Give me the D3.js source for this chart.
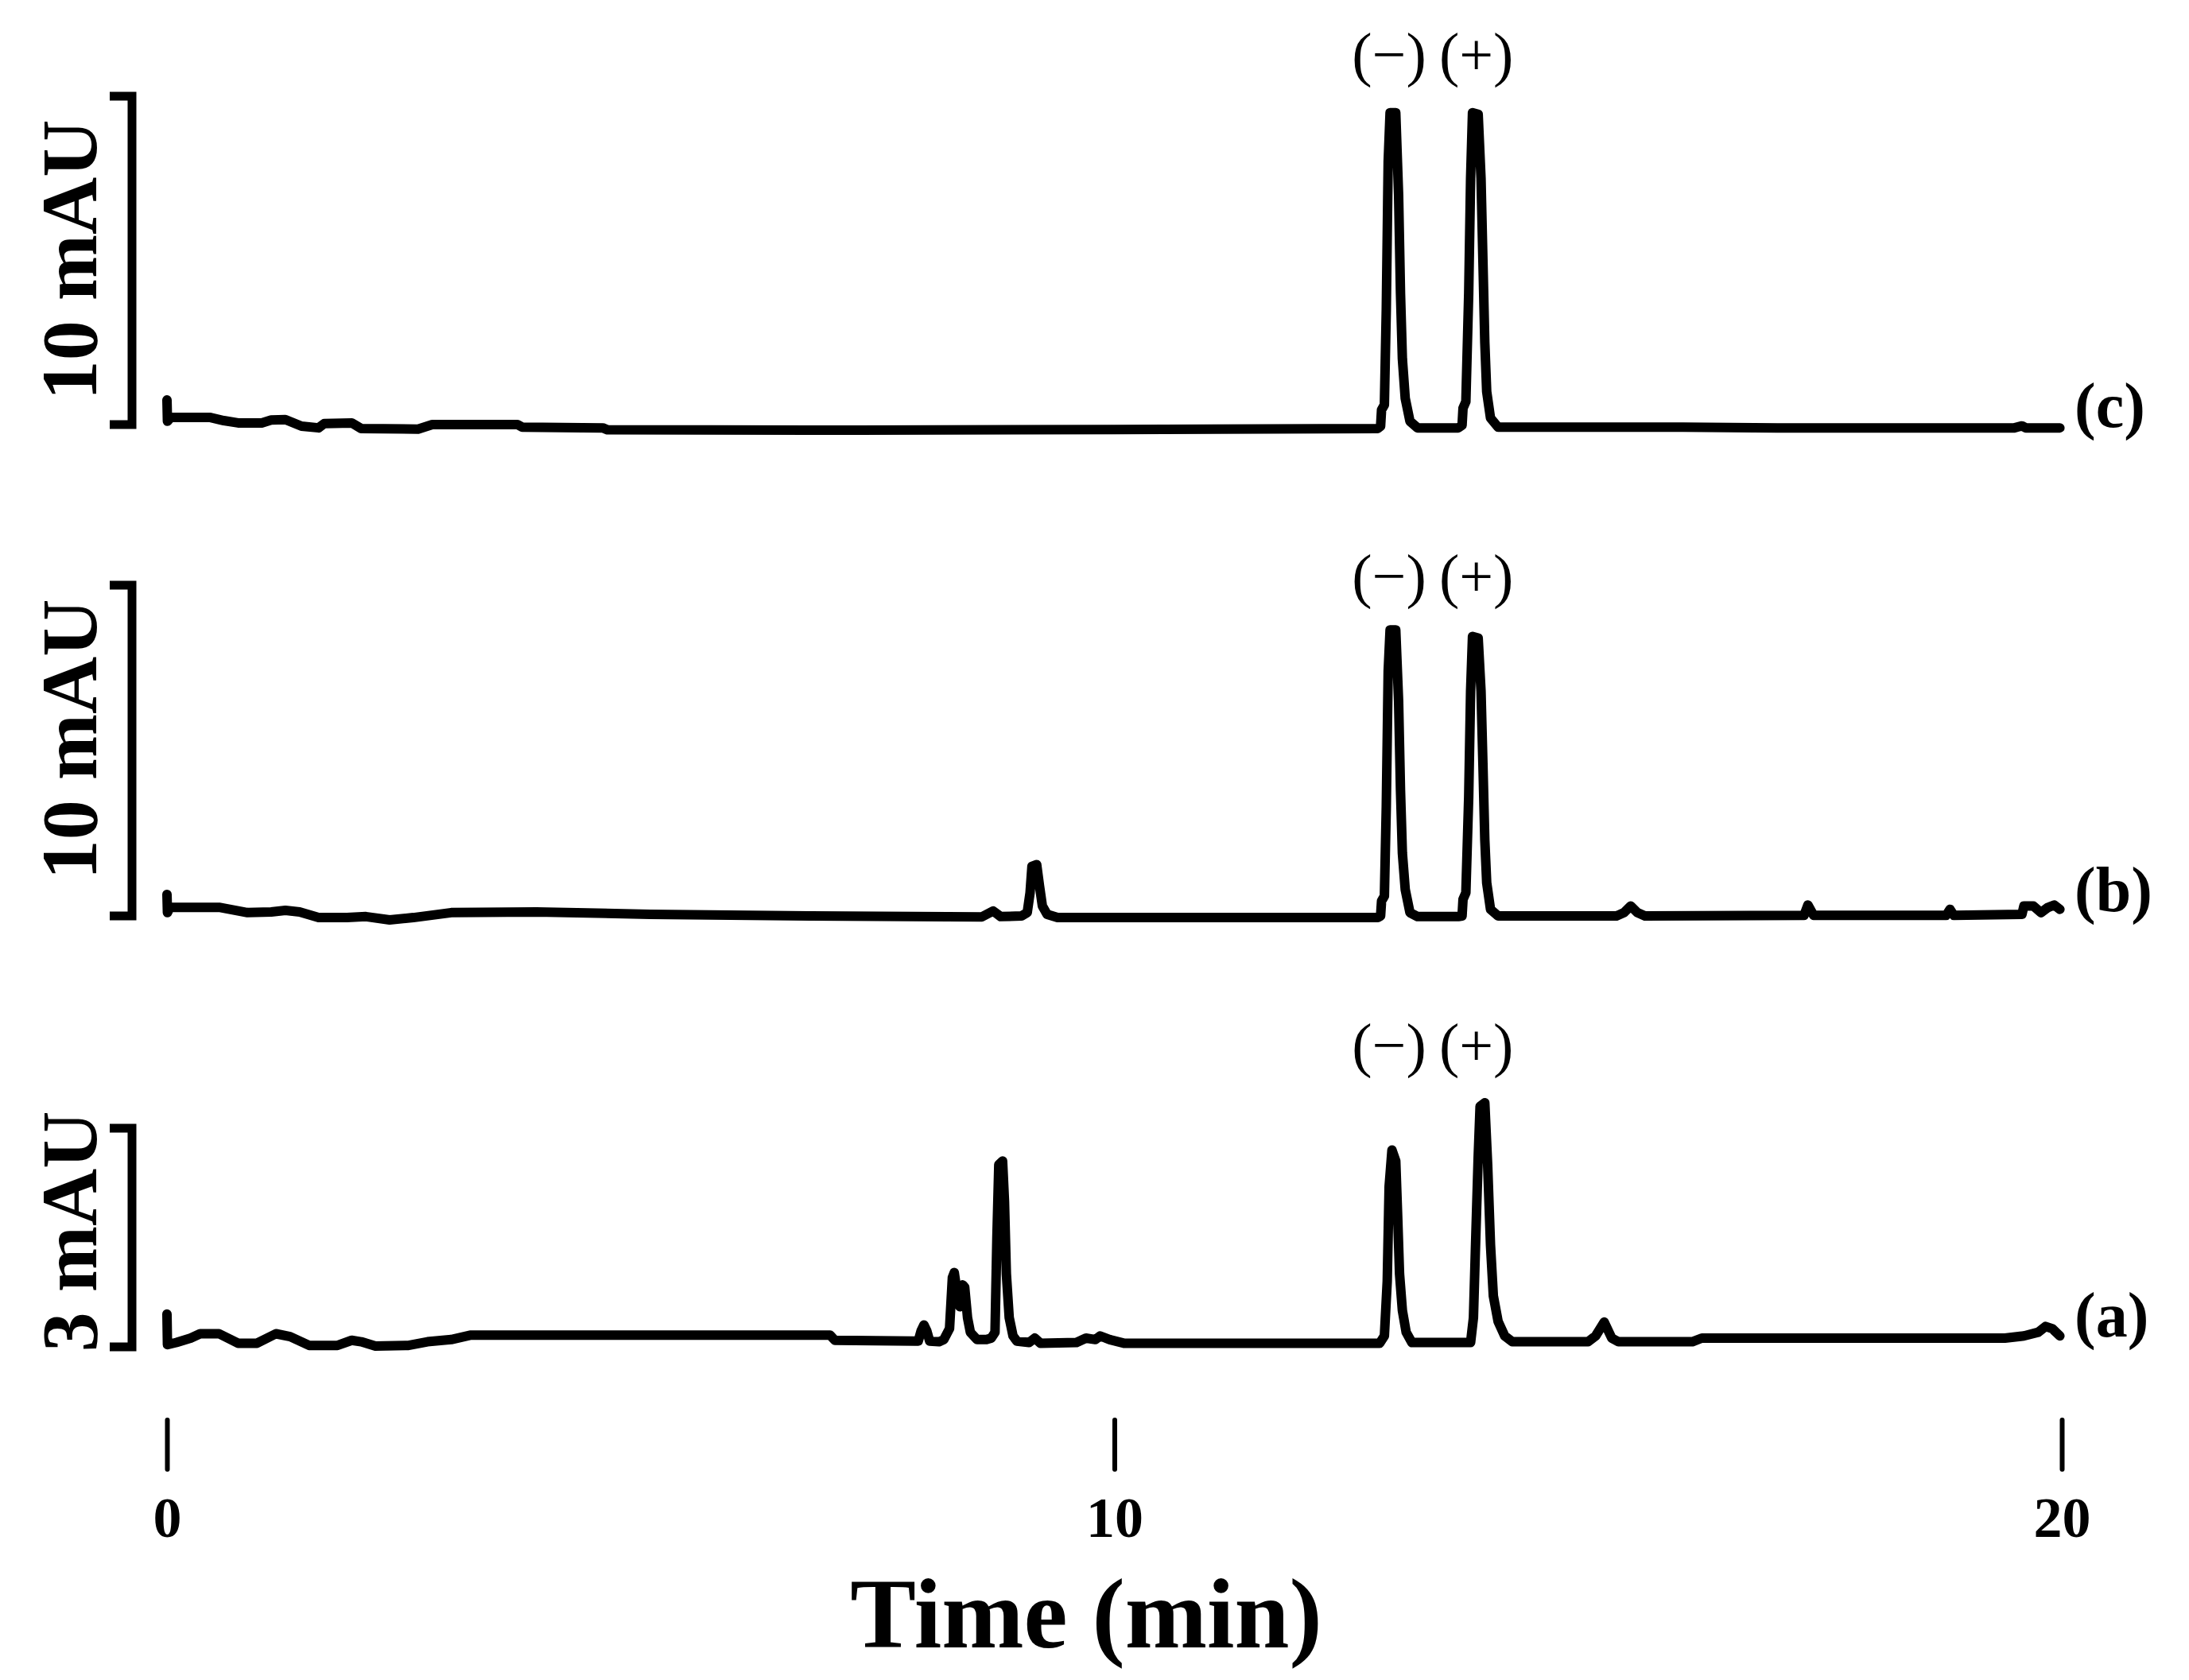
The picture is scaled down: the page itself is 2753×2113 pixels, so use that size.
<!DOCTYPE html>
<html><head><meta charset="utf-8">
<script src="https://cdn.jsdelivr.net/npm/d3@7"></script>
<style>body{margin:0;background:#fff}</style>
</head><body><svg id="chart" width="2753" height="2113"></svg>
<script>
// ---------- data ----------
const xTicks = [0, 10, 20];
const tickLabels = ["0", "10", "20"];
const panelLabels = ["(c)", "(b)", "(a)"];
const scaleBarValues = [10, 10, 3];
const scaleBarLabels = ["10 mAU", "10 mAU", "3 mAU"];
const peakLabels = ["(\u2212)", "(+)"];
const peakLabelTimes = [12.9, 13.82];
const xTitle = "Time (min)";

// trace (c) : [time (min), absorbance (mAU)]
const traceC = [
  [0, 0.75], [0.005, 0.1], [0.04, 0.22], [0.45, 0.22], [0.6, 0.12], [0.75, 0.05], [1.0, 0.05],
  [1.1, 0.14], [1.25, 0.15], [1.42, -0.05], [1.6, -0.1], [1.66, 0.03], [1.95, 0.05], [2.05, -0.12],
  [2.65, -0.14], [2.8, 0.0], [3.7, 0.0], [3.75, -0.08], [4.6, -0.1], [4.65, -0.16], [7.3, -0.17],
  [10.0, -0.15], [12.78, -0.12],
  [12.81, -0.05], [12.82, 0.45], [12.85, 0.6], [12.87, 3.5], [12.89, 8.0], [12.91, 9.5], [12.97, 9.5],
  [13.0, 7.0], [13.02, 4.0], [13.04, 2.0], [13.07, 0.8], [13.12, 0.1], [13.2, -0.1],
  [13.63, -0.1], [13.67, -0.02], [13.68, 0.5], [13.71, 0.7], [13.74, 4.0], [13.76, 7.5], [13.78, 9.5],
  [13.84, 9.45], [13.87, 7.5], [13.89, 5.0], [13.91, 2.5], [13.93, 1.0], [13.97, 0.2], [14.05, -0.08],
  [16.0, -0.08], [17.0, -0.1], [19.5, -0.1], [19.58, -0.04], [19.62, -0.1], [19.98, -0.1]
];

// trace (b)
const traceB = [
  [0, 0.65], [0.005, 0.1], [0.03, 0.26], [0.55, 0.26], [0.85, 0.1], [1.1, 0.12], [1.25, 0.17],
  [1.4, 0.12], [1.6, -0.05], [1.9, -0.05], [2.1, -0.02], [2.35, -0.12], [2.6, -0.05], [3.0, 0.1],
  [3.9, 0.12], [5.1, 0.05], [6.8, 0.0], [8.6, -0.03], [8.72, 0.15], [8.8, -0.02],
  [9.02, 0.0], [9.08, 0.1], [9.11, 0.7], [9.13, 1.5], [9.18, 1.55], [9.21, 0.9], [9.24, 0.3],
  [9.29, 0.05], [9.4, -0.05], [12.78, -0.05],
  [12.81, 0.0], [12.82, 0.45], [12.85, 0.6], [12.87, 3.3], [12.89, 7.4], [12.91, 8.65], [12.97, 8.65],
  [13.0, 6.5], [13.02, 3.8], [13.04, 1.9], [13.07, 0.8], [13.12, 0.1], [13.2, -0.02],
  [13.63, -0.02], [13.67, 0.0], [13.68, 0.5], [13.71, 0.7], [13.74, 3.6], [13.76, 6.8], [13.78, 8.45],
  [13.84, 8.4], [13.87, 6.8], [13.89, 4.6], [13.91, 2.3], [13.93, 1.0], [13.97, 0.2], [14.05, 0.0],
  [15.3, 0.0], [15.38, 0.1], [15.45, 0.3], [15.52, 0.1], [15.6, 0.0], [17.28, 0.02], [17.32, 0.33],
  [17.38, 0.02], [18.78, 0.02], [18.82, 0.2], [18.86, 0.02], [19.58, 0.05], [19.6, 0.3], [19.7, 0.3],
  [19.78, 0.1], [19.85, 0.25], [19.92, 0.33], [19.98, 0.2]
];

// trace (a)
const traceA = [
  [0, 0.45], [0.005, 0.03], [0.1, 0.06], [0.25, 0.12], [0.35, 0.18], [0.55, 0.18], [0.75, 0.05],
  [0.95, 0.05], [1.15, 0.18], [1.3, 0.14], [1.5, 0.02], [1.8, 0.02], [1.95, 0.09], [2.05, 0.07],
  [2.2, 0.01], [2.55, 0.02], [2.75, 0.07], [3.0, 0.1], [3.2, 0.16], [7.0, 0.16], [7.05, 0.09],
  [7.9, 0.08], [7.93, 0.08], [7.96, 0.22], [7.99, 0.3], [8.02, 0.22], [8.05, 0.08], [8.15, 0.07],
  [8.2, 0.1], [8.26, 0.25], [8.29, 0.95], [8.31, 1.02], [8.34, 0.75], [8.37, 0.55], [8.40, 0.85],
  [8.42, 0.82], [8.45, 0.4], [8.48, 0.2], [8.55, 0.1], [8.65, 0.1],
  [8.70, 0.12], [8.74, 0.2], [8.76, 1.5], [8.78, 2.5], [8.82, 2.55], [8.84, 2.0], [8.86, 1.0],
  [8.89, 0.4], [8.93, 0.15], [8.97, 0.08], [9.1, 0.06], [9.16, 0.12], [9.22, 0.05], [9.6, 0.06],
  [9.7, 0.12], [9.8, 0.1], [9.85, 0.15], [9.95, 0.1], [10.1, 0.05], [12.8, 0.05],
  [12.85, 0.15], [12.88, 0.9], [12.9, 2.2], [12.93, 2.7], [12.97, 2.55], [12.99, 1.8], [13.01, 1.0],
  [13.04, 0.5], [13.08, 0.2], [13.14, 0.06], [13.76, 0.06],
  [13.79, 0.4], [13.81, 1.3], [13.84, 2.6], [13.86, 3.3], [13.91, 3.35], [13.94, 2.5], [13.97, 1.4],
  [14.0, 0.7], [14.05, 0.35], [14.12, 0.15], [14.2, 0.07], [15.0, 0.07], [15.08, 0.15], [15.17, 0.34],
  [15.25, 0.12], [15.32, 0.07], [16.1, 0.07], [16.2, 0.12], [19.4, 0.12], [19.6, 0.15], [19.75, 0.2],
  [19.83, 0.28], [19.9, 0.25], [19.98, 0.15]
];

const traces = [traceC, traceB, traceA];

// ---------- layout ----------
const svg = d3.select("#chart");
const font = "'Liberation Serif', 'Times New Roman', serif";
const x = d3.scaleLinear().domain([0, 20]).range([210, 2593]);

const panels = [
  { yRange: [534, 121], labelY: 510, peakY: 94, barLabelY: 327 },
  { yRange: [1152, 736], labelY: 1119, peakY: 750, barLabelY: 930 },
  { yRange: [1694, 1419], labelY: 1654, peakY: 1340, barLabelY: 1549 }
];

panels.forEach((p, i) => {
  const y = d3.scaleLinear().domain([0, scaleBarValues[i]]).range(p.yRange);
  const g = svg.append("g");

  // scale bar
  const bx = 166;
  const y0 = y(0), y1 = y(scaleBarValues[i]);
  g.append("path")
    .attr("d", `M${bx - 28},${y1} L${bx},${y1} L${bx},${y0} L${bx - 28},${y0}`)
    .attr("fill", "none").attr("stroke", "#000").attr("stroke-width", 11)
    .attr("stroke-linejoin", "miter");

  g.append("text")
    .attr("transform", `translate(121,${p.barLabelY}) rotate(-90)`)
    .attr("text-anchor", "middle")
    .attr("font-family", font).attr("font-weight", "bold").attr("font-size", 100)
    .text(scaleBarLabels[i]);

  // trace
  const line = d3.line().x(d => x(d[0])).y(d => y(d[1]));
  g.append("path")
    .datum(traces[i])
    .attr("d", line)
    .attr("fill", "none").attr("stroke", "#000").attr("stroke-width", 12)
    .attr("stroke-linejoin", "round").attr("stroke-linecap", "round");

  // panel label
  g.append("text")
    .attr("x", 2609).attr("y", p.labelY)
    .attr("dominant-baseline", "central")
    .attr("font-family", font).attr("font-weight", "bold").attr("font-size", 80)
    .text(panelLabels[i]);

  // peak labels
  peakLabels.forEach((lab, k) => {
    g.append("text")
      .attr("x", x(peakLabelTimes[k])).attr("y", p.peakY)
      .attr("text-anchor", "middle")
      .attr("font-family", font).attr("font-size", 76)
      .text(lab);
  });
});

// x axis (ticks + labels only)
const axis = d3.axisBottom(x).tickValues(xTicks).tickSize(62)
  .tickFormat((d, i) => tickLabels[i]);
const ax = svg.append("g").attr("transform", "translate(0,1786)").call(axis);
ax.select(".domain").remove();
ax.selectAll(".tick line").attr("stroke", "#000").attr("stroke-width", 6).attr("stroke-linecap", "round");
ax.selectAll(".tick text")
  .attr("y", 147).attr("dy", 0)
  .attr("fill", "#000")
  .attr("font-family", font).attr("font-weight", "bold").attr("font-size", 72);

svg.append("text")
  .attr("x", 1366).attr("y", 2072)
  .attr("text-anchor", "middle")
  .attr("font-family", font).attr("font-weight", "bold").attr("font-size", 124)
  .text(xTitle);
</script>
</body></html>
